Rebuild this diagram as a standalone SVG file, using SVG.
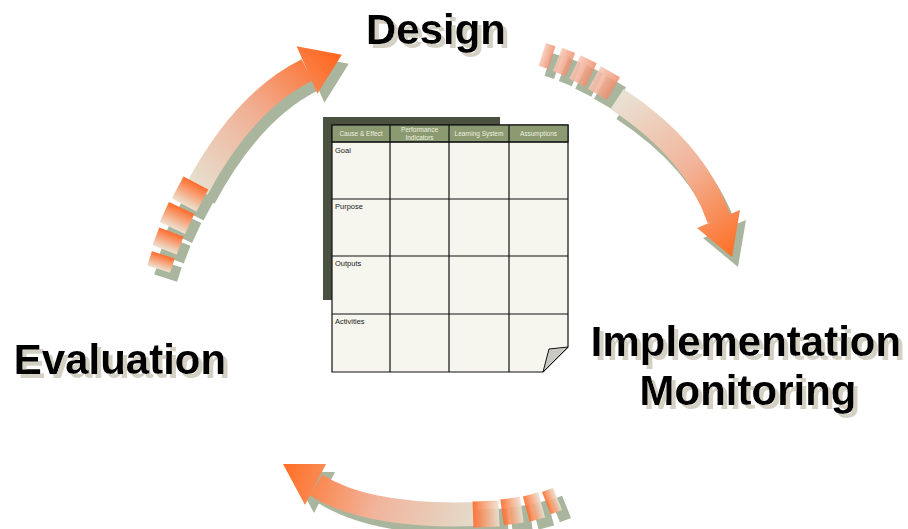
<svg xmlns="http://www.w3.org/2000/svg" width="908" height="529" viewBox="0 0 908 529">
<style>
.lbl{font-family:"Liberation Sans",Arial,sans-serif;font-weight:bold;font-size:42px;text-anchor:middle;fill:#000;filter:url(#tsh)}
.hdr{font-family:"Liberation Sans",Arial,sans-serif;font-size:6.5px;fill:#eef0e0;text-anchor:middle}
.row{font-family:"Liberation Sans",Arial,sans-serif;font-size:7.5px;fill:#1a1a1a}
.sh{fill:#aab59d}
.shs{fill:none;stroke:#aab59d;stroke-width:24}
.grid{stroke:#111;stroke-width:1.2;fill:none}
</style>
<defs>
<filter id="tsh" x="-10%" y="-20%" width="120%" height="150%">
<feFlood flood-color="#d4d0c3" result="c"/>
<feComposite in="c" in2="SourceAlpha" operator="in" result="s"/>
<feOffset in="s" dx="4" dy="4" result="o"/>
<feMerge><feMergeNode in="o"/><feMergeNode in="SourceGraphic"/></feMerge>
</filter>
<linearGradient id="gA1" gradientUnits="userSpaceOnUse" x1="198" y1="188" x2="335" y2="56">
<stop offset="0" stop-color="#e6dfcf"/><stop offset="0.5" stop-color="#f1ae92"/><stop offset="1" stop-color="#ff6820"/>
</linearGradient>
<linearGradient id="gA2" gradientUnits="userSpaceOnUse" x1="617" y1="99" x2="732" y2="257">
<stop offset="0" stop-color="#e9e1d3"/><stop offset="0.5" stop-color="#f2b49a"/><stop offset="1" stop-color="#ff6e24"/>
</linearGradient>
<linearGradient id="gA3" gradientUnits="userSpaceOnUse" x1="478" y1="514" x2="283" y2="464">
<stop offset="0" stop-color="#e3dccb"/><stop offset="0.5" stop-color="#f1b49c"/><stop offset="1" stop-color="#ff6e24"/>
</linearGradient>
<linearGradient id="gSeg" x1="0" y1="0" x2="1" y2="0">
<stop offset="0" stop-color="#ece2d2"/><stop offset="1" stop-color="#ff6c2c"/>
</linearGradient>
<linearGradient id="gSeg2" x1="0" y1="0" x2="1" y2="0">
<stop offset="0" stop-color="#f7c8b6"/><stop offset="1" stop-color="#ef8e6c"/>
</linearGradient>
</defs>
<rect width="908" height="529" fill="#fff"/>

<g id="connectors">
<g id="arrow-evaluation-design">
<g transform="translate(7,9)">
<path class="shs" d="M197,189 Q244,101 307,70"/>
<polygon class="sh" points="296.6,46.2 341.8,54.8 317.4,93.8"/>
<rect class="sh" x="-12.5" y="-14" width="25" height="28" transform="translate(190,194) rotate(-62)"/>
<rect class="sh" x="-11" y="-14" width="22" height="28" transform="translate(177,218) rotate(-65)"/>
<rect class="sh" x="-9.5" y="-13" width="19" height="26" transform="translate(168,241) rotate(-69)"/>
<rect class="sh" x="-7.5" y="-12" width="15" height="24" transform="translate(161,262) rotate(-72)"/>
</g>
<path d="M197,189 Q244,101 307,70" fill="none" stroke="url(#gA1)" stroke-width="24"/>
<polygon points="296.6,46.2 341.8,54.8 317.4,93.8" fill="url(#gA1)"/>
<rect fill="url(#gSeg)" x="-12.5" y="-14" width="25" height="28" transform="translate(190,194) rotate(-62)"/>
<rect fill="url(#gSeg)" x="-11" y="-14" width="22" height="28" transform="translate(177,218) rotate(-65)"/>
<rect fill="url(#gSeg)" x="-9.5" y="-13" width="19" height="26" transform="translate(168,241) rotate(-69)"/>
<rect fill="url(#gSeg)" x="-7.5" y="-12" width="15" height="24" transform="translate(161,262) rotate(-72)"/>
</g>

<g id="arrow-design-implementation">
<g transform="translate(6,10)">
<path class="shs" d="M617,99 Q695,150 719,219"/>
<polygon class="sh" points="697,228 740,210 732,257"/>
<rect class="sh" x="-11" y="-13" width="22" height="26" transform="translate(604,83) rotate(30)"/>
<rect class="sh" x="-9" y="-13" width="18" height="26" transform="translate(583,71) rotate(26)"/>
<rect class="sh" x="-7" y="-12.5" width="14" height="25" transform="translate(564,62) rotate(22)"/>
<rect class="sh" x="-5" y="-12" width="10" height="24" transform="translate(547,56) rotate(18)"/>
</g>
<path d="M617,99 Q695,150 719,219" fill="none" stroke="url(#gA2)" stroke-width="24"/>
<polygon points="697,228 740,210 732,257" fill="url(#gA2)"/>
<g opacity="0.85">
<rect fill="url(#gSeg2)" x="-11" y="-13" width="22" height="26" transform="translate(604,83) rotate(30)"/>
<rect fill="url(#gSeg2)" x="-9" y="-13" width="18" height="26" transform="translate(583,71) rotate(26)"/>
<rect fill="url(#gSeg2)" x="-7" y="-12.5" width="14" height="25" transform="translate(564,62) rotate(22)"/>
<rect fill="url(#gSeg2)" x="-5" y="-12" width="10" height="24" transform="translate(547,56) rotate(18)"/>
</g>
</g>

<g id="arrow-implementation-evaluation">
<g transform="translate(9,8)">
<path class="shs" d="M478,514 Q368,518 316,485"/>
<polygon class="sh" points="326,464 283,464 305,505"/>
<rect class="sh" x="-13" y="-13" width="26" height="26" transform="translate(486,514) rotate(178)"/>
<rect class="sh" x="-10" y="-13" width="20" height="26" transform="translate(512,511) rotate(172)"/>
<rect class="sh" x="-8" y="-13" width="16" height="26" transform="translate(534,507) rotate(165)"/>
<rect class="sh" x="-6" y="-12" width="12" height="24" transform="translate(552,501) rotate(158)"/>
</g>
<path d="M478,514 Q368,518 316,485" fill="none" stroke="url(#gA3)" stroke-width="24"/>
<polygon points="326,464 283,464 305,505" fill="url(#gA3)"/>
<g opacity="0.9">
<rect fill="url(#gSeg)" x="-13" y="-13" width="26" height="26" transform="translate(486,514) rotate(178)"/>
<rect fill="url(#gSeg)" x="-10" y="-13" width="20" height="26" transform="translate(512,511) rotate(172)"/>
<rect fill="url(#gSeg)" x="-8" y="-13" width="16" height="26" transform="translate(534,507) rotate(165)"/>
<rect fill="url(#gSeg)" x="-6" y="-12" width="12" height="24" transform="translate(552,501) rotate(158)"/>
</g>
</g>
</g>

<g id="node-design">
<text class="lbl" x="436" y="44">Design</text>
</g>

<g id="node-evaluation">
<text class="lbl" x="120" y="374">Evaluation</text>
</g>

<g id="node-implementation">
<text class="lbl" x="746" y="356">Implementation</text>
<text class="lbl" x="748" y="405">Monitoring</text>
</g>

<g id="node-logframe">
<rect x="323" y="117" width="177" height="183" fill="#4b5140"/>
<polygon points="332,125 568,125 568,347 543,372 332,372" fill="#f6f6ef" stroke="#111" stroke-width="1.2"/>
<rect x="332" y="125" width="236" height="17" fill="#8b9a70" stroke="#111" stroke-width="1.2"/>
<path class="grid" d="M390,125V372M449,125V372M509,125V372M332,142H568M332,199H568M332,256H568M332,314H568"/>
<polygon points="568,347 549,349 543,372" fill="#c9cbc2" stroke="#111" stroke-width="1"/>
<text class="hdr" x="361" y="136">Cause &amp; Effect</text>
<text class="hdr" x="419.5" y="132">Performance</text>
<text class="hdr" x="419.5" y="139.5">Indicators</text>
<text class="hdr" x="479" y="136">Learning System</text>
<text class="hdr" x="538.5" y="136">Assumptions</text>
<text class="row" x="335" y="153">Goal</text>
<text class="row" x="335" y="209">Purpose</text>
<text class="row" x="335" y="266">Outputs</text>
<text class="row" x="335" y="324">Activities</text>
</g>
</svg>
